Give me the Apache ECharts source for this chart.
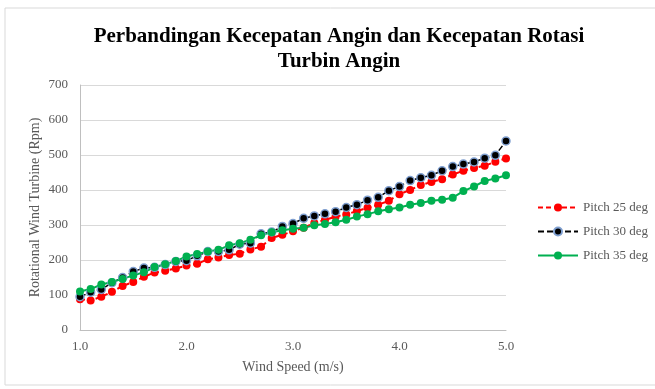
<!DOCTYPE html>
<html>
<head>
<meta charset="utf-8">
<script src="https://cdn.jsdelivr.net/npm/echarts@6/dist/echarts.min.js"></script>
<style>
  html, body { margin: 0; padding: 0; background: #ffffff; }
  #chart { width: 655px; height: 389px; }
</style>
</head>
<body>
<div id="chart"></div>
<script>
// wind speed (m/s), 1.0 .. 5.0 step 0.1
const windSpeed = [1.0, 1.1, 1.2, 1.3, 1.4, 1.5, 1.6, 1.7, 1.8, 1.9,
  2.0, 2.1, 2.2, 2.3, 2.4, 2.5, 2.6, 2.7, 2.8, 2.9,
  3.0, 3.1, 3.2, 3.3, 3.4, 3.5, 3.6, 3.7, 3.8, 3.9,
  4.0, 4.1, 4.2, 4.3, 4.4, 4.5, 4.6, 4.7, 4.8, 4.9, 5.0];

// rpm
const pitch25 = [88, 84, 95, 109, 126, 137, 152, 164, 169, 176,
  184, 189, 202, 207, 214, 218, 230, 238, 263, 272,
  282, 292, 306, 314, 324, 330, 340, 349, 358, 369,
  388, 400, 414, 423, 431, 444, 455, 463, 469, 481, 490];
const pitch30 = [95, 108, 116, 135, 150, 167, 177, 179, 187, 196,
  198, 212, 224, 224, 229, 245, 248, 275, 280, 296,
  304, 319, 326, 332, 338, 350, 358, 371, 379, 398,
  410, 427, 435, 442, 455, 467, 474, 480, 491, 499, 540];
const pitch35 = [110, 117, 130, 137, 146, 156, 165, 180, 188, 197,
  210, 217, 224, 229, 242, 248, 258, 271, 279, 285,
  289, 292, 299, 303, 308, 315, 324, 331, 339, 345,
  350, 358, 363, 369, 372, 378, 397, 410, 426, 433, 442];

const seriesNames = ["Pitch 25 deg", "Pitch 30 deg", "Pitch 35 deg"];

const pairs = (ys) => windSpeed.map((x, i) => [x, ys[i]]);

const labelFont = '"Liberation Serif", serif';
const grey = "#595959";

const chart = echarts.init(document.getElementById("chart"));

const option = {
  animation: false,
  graphic: [{
    type: "rect",
    shape: { x: 5, y: 8, width: 660, height: 377 },
    style: { fill: "none", stroke: "#d9d9d9", lineWidth: 1 },
    silent: true,
  }],
  title: {
    text: "Perbandingan Kecepatan Angin dan Kecepatan Rotasi\nTurbin Angin",
    left: 334,
    top: 19,
    textAlign: "center",
    textStyle: {
      fontFamily: labelFont,
      fontWeight: "bold",
      fontSize: 21,
      lineHeight: 25,
      color: "#000000",
    },
  },
  legend: {
    orient: "vertical",
    left: 537,
    top: 201,
    padding: 0,
    itemWidth: 40,
    itemHeight: 10,
    itemGap: 11,
    data: seriesNames,
    textStyle: { fontFamily: labelFont, fontSize: 13, color: grey },
  },
  grid: { left: 80, right: 149, top: 85, bottom: 59 },
  xAxis: {
    type: "value",
    min: 1,
    max: 5,
    interval: 1,
    name: "Wind Speed (m/s)",
    nameLocation: "middle",
    nameGap: 30,
    nameTextStyle: { fontFamily: labelFont, fontSize: 14, color: grey },
    axisLine: { lineStyle: { color: "#bfbfbf" } },
    axisTick: { show: false },
    splitLine: { show: false },
    axisLabel: {
      fontFamily: labelFont, fontSize: 13, color: grey, margin: 10,
      formatter: (v) => v.toFixed(1),
    },
  },
  yAxis: {
    type: "value",
    min: 0,
    max: 700,
    interval: 100,
    name: "Rotational Wind Turbine (Rpm)",
    nameLocation: "middle",
    nameGap: 38,
    nameMoveOverlap: false,
    nameTextStyle: { fontFamily: labelFont, fontSize: 14, color: grey },
    axisLine: { show: true, lineStyle: { color: "#bfbfbf" } },
    axisTick: { show: false },
    splitLine: { lineStyle: { color: "#d9d9d9" } },
    axisLabel: { fontFamily: labelFont, fontSize: 13, color: grey, margin: 12 },
  },
  series: [
    {
      name: seriesNames[0],
      type: "line",
      data: pairs(pitch25),
      symbol: "circle",
      symbolSize: 8,
      itemStyle: { color: "#ff0000" },
      lineStyle: { color: "#ff0000", width: 2, type: [5, 3] },
    },
    {
      name: seriesNames[1],
      type: "line",
      data: pairs(pitch30),
      symbol: "circle",
      symbolSize: 8,
      itemStyle: { color: "#000000", borderColor: "#7f9fd0", borderWidth: 1.5 },
      lineStyle: { color: "#000000", width: 1.5, type: [6, 3] },
    },
    {
      name: seriesNames[2],
      type: "line",
      data: pairs(pitch35),
      symbol: "circle",
      symbolSize: 8,
      itemStyle: { color: "#00b050" },
      lineStyle: { color: "#00b050", width: 2 },
    },
  ],
};

chart.setOption(option);
</script>
</body>
</html>
